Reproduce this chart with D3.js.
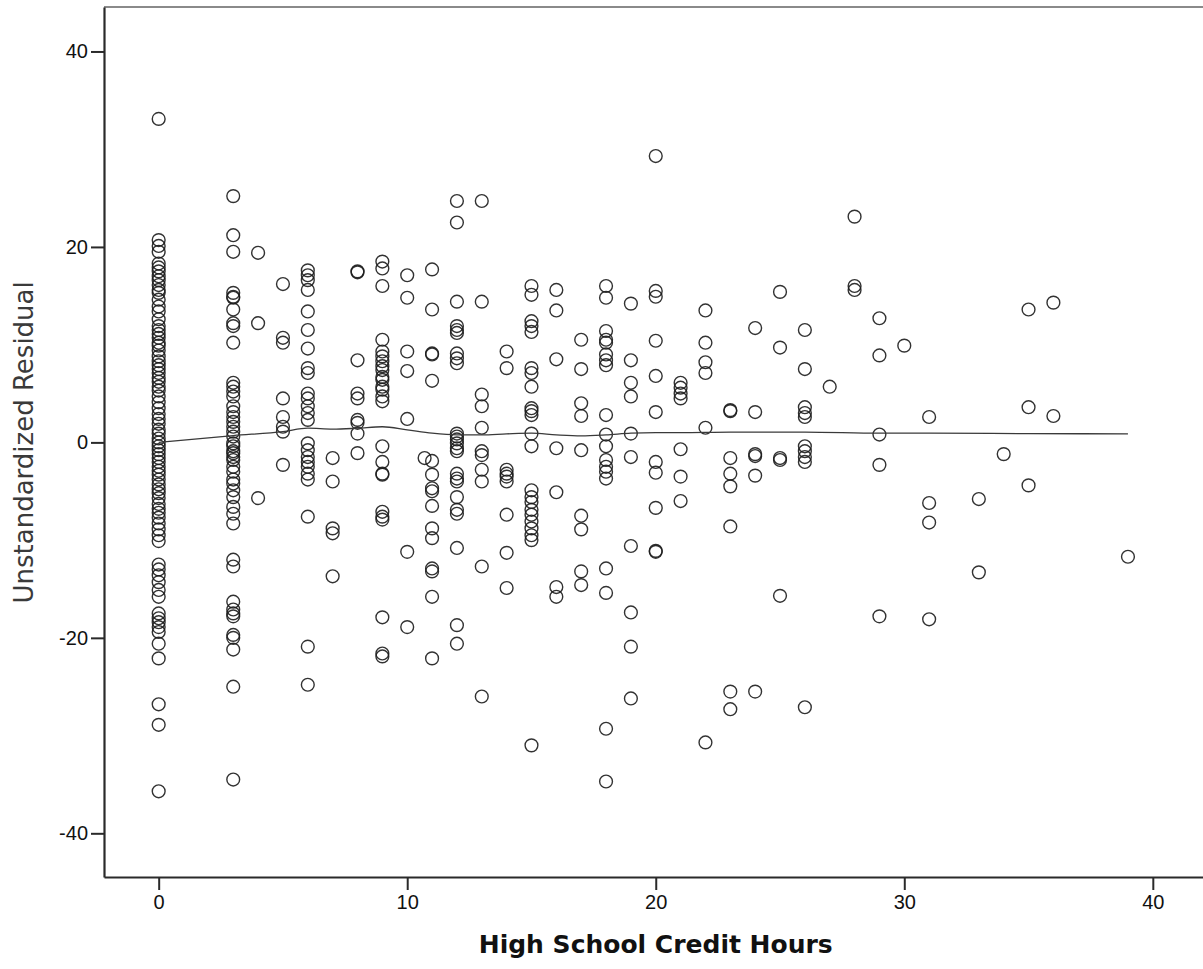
<!DOCTYPE html>
<html>
<head>
<meta charset="utf-8">
<script src="https://cdn.jsdelivr.net/npm/d3@7"></script>
<style>
  html, body { margin: 0; padding: 0; background: #fff; }
  svg { display: block; }
</style>
</head>
<body>
<svg id="chart" width="1203" height="969"></svg>
<script>
// Residuals from the regression, grouped by high school credit hours
const creditHours = [0, 3, 4, 5, 6, 7, 8, 9, 10, 10.7, 11, 12, 13, 14, 15, 16, 17, 18, 19, 20,
                     21, 22, 23, 24, 25, 26, 27, 28, 29, 30, 31, 33, 34, 35, 36, 39];
const residuals = [
  [33.1, 20.7, 20.1, 19.5, 18.3, 17.9, 17.5, 17.0, 16.6, 16.1, 15.6, 15.3, 14.6, 13.9, 13.4, 12.6, 11.9, 11.5,
   11.1, 10.7, 10.2, 9.9, 9.4, 8.8, 8.3, 7.9, 7.5, 7.1, 6.6, 6.2, 5.7, 5.3, 4.7, 4.1, 3.5, 2.9, 2.4, 1.9, 1.3,
   0.9, 0.4, 0.0, -0.4, -0.8, -1.2, -1.6, -2.0, -2.5, -2.9, -3.3, -3.8, -4.3, -4.8, -5.2, -5.7, -6.3, -6.8,
   -7.2, -7.7, -8.3, -8.9, -9.5, -10.1, -12.5, -13.0, -13.6, -14.3, -15.1, -15.8, -17.5, -18.0, -18.4, -18.9,
   -19.4, -20.6, -22.1, -26.8, -28.9, -35.7],
  [25.2, 21.2, 19.5, 15.3, 14.9, 14.8, 13.6, 12.2, 11.9, 10.2, 6.1, 5.7, 5.2, 4.7, 3.7, 3.1, 2.6, 2.1, 1.6, 1.1,
   0.6, -0.1, -0.4, -0.9, -1.1, -1.5, -1.8, -2.5, -3.0, -3.8, -4.2, -4.9, -5.6, -6.6, -7.3, -8.3, -12.0, -12.7,
   -16.3, -17.1, -17.5, -17.8, -19.7, -20.0, -21.2, -25.0, -34.5],
  [19.4, 12.2, -5.7],
  [16.2, 10.7, 10.2, 4.5, 2.6, 1.6, 1.1, -2.3],
  [17.6, 17.1, 16.6, 15.6, 13.4, 11.5, 9.6, 7.6, 7.1, 5.0, 4.5, 3.7, 3.0, 2.3, -0.1, -0.8, -1.5, -2.0, -2.5,
   -3.2, -3.8, -7.6, -20.9, -24.8],
  [-1.6, -4.0, -8.8, -9.3, -13.7],
  [17.5, 17.4, 8.4, 5.0, 4.5, 2.3, 2.0, 0.9, -1.1],
  [18.5, 17.8, 16.0, 10.5, 9.3, 8.8, 8.3, 7.8, 7.4, 6.7, 6.4, 5.7, 5.4, 4.7, 4.2, -0.4, -2.0, -3.2, -3.3,
   -7.1, -7.6, -7.9, -17.9, -21.6, -21.9],
  [17.1, 14.8, 9.3, 7.3, 2.4, -11.2, -18.9],
  [-1.6],
  [17.7, 13.6, 9.1, 9.0, 6.3, -1.9, -3.3, -4.7, -5.0, -6.5, -8.8, -9.8, -12.9, -13.2, -15.8, -22.1],
  [24.7, 22.5, 14.4, 11.9, 11.5, 11.2, 9.1, 8.6, 8.1, 0.9, 0.6, 0.3, -0.1, -0.6, -0.9, -3.2, -3.7, -4.0,
   -5.6, -6.9, -7.3, -10.8, -18.7, -20.6],
  [24.7, 14.4, 4.9, 3.7, 1.5, -0.9, -1.3, -2.8, -4.0, -12.7, -26.0],
  [9.3, 7.6, -2.8, -3.2, -3.5, -4.0, -7.4, -11.3, -14.9],
  [16.0, 15.1, 12.4, 11.9, 11.3, 7.6, 7.1, 5.7, 3.5, 3.2, 2.8, 0.9, -0.4, -4.9, -5.6, -6.1, -6.9, -7.4,
   -8.1, -8.8, -9.5, -10.0, -31.0],
  [15.6, 13.5, 8.5, -0.6, -5.1, -14.8, -15.8],
  [10.5, 7.5, 4.0, 2.7, -0.8, -7.5, -8.9, -13.2, -14.6],
  [16.0, 14.8, 11.4, 10.5, 10.2, 9.0, 8.4, 7.9, 2.8, 0.8, -0.4, -1.8, -2.5, -3.0, -3.7, -12.9, -15.4,
   -29.3, -34.7],
  [14.2, 8.4, 6.1, 4.7, 0.9, -1.5, -10.6, -17.4, -20.9, -26.2],
  [29.3, 15.5, 14.9, 10.4, 6.8, 3.1, -2.0, -3.1, -6.7, -11.1, -11.2],
  [6.1, 5.6, 5.0, 4.5, -0.7, -3.5, -6.0],
  [13.5, 10.2, 8.2, 7.1, 1.5, -30.7],
  [3.3, 3.2, -1.6, -3.2, -4.5, -8.6, -25.5, -27.3],
  [11.7, 3.1, -1.2, -1.4, -3.4, -25.5],
  [15.4, 9.7, -1.6, -1.8, -15.7],
  [11.5, 7.5, 3.6, 3.0, 2.6, -0.4, -0.9, -1.5, -2.0, -27.1],
  [5.7],
  [23.1, 16.0, 15.6],
  [12.7, 8.9, 0.8, -2.3, -17.8],
  [9.9],
  [2.6, -6.2, -8.2, -18.1],
  [-5.8, -13.3],
  [-1.2],
  [13.6, 3.6, -4.4],
  [14.3, 2.7],
  [-11.7]
];

// Smoothed (loess) fit through the residuals
const fitHours = [0, 3, 5, 6, 7, 8, 9, 10, 11, 12, 13, 14, 15, 16, 17, 18, 19, 20, 21, 23, 26, 29, 31, 35, 39];
const fitResidual = [0.0, 0.7, 1.1, 1.45, 1.35, 1.45, 1.6, 1.28, 0.94, 0.77, 0.77, 0.87, 0.94, 0.77, 0.67,
                     0.77, 0.94, 1.0, 1.0, 1.05, 1.05, 0.94, 0.94, 0.9, 0.87];

// Axis ticks
const xTicks = [0, 10, 20, 30, 40];
const yTicks = [-40, -20, 0, 20, 40];

const points = [];
creditHours.forEach((h, i) => residuals[i].forEach(r => points.push({ h, r })));
const fitLine = fitHours.map((h, i) => ({ h, r: fitResidual[i] }));

const svg = d3.select("#chart");
const plot = { left: 104, top: 7, right: 1206, bottom: 877 };

const x = d3.scaleLinear().domain([-2.2, 42.14]).range([plot.left, plot.right]);
const y = d3.scaleLinear().domain([-44.47, 44.55]).range([plot.bottom, plot.top]);

// Frame: grey top edge, dark left/bottom axes
svg.append("line")
  .attr("x1", plot.left).attr("x2", plot.right)
  .attr("y1", plot.top).attr("y2", plot.top)
  .attr("stroke", "#8a8a8a").attr("stroke-width", 2.2);

const tickFont = "'Liberation Sans', Arial, sans-serif";
const plainNumber = d => String(d);

const yAxis = svg.append("g")
  .attr("transform", `translate(${plot.left},0)`)
  .call(d3.axisLeft(y).tickValues(yTicks).tickFormat(plainNumber)
    .tickSize(13).tickPadding(3).tickSizeOuter(0));
const xAxis = svg.append("g")
  .attr("transform", `translate(0,${plot.bottom})`)
  .call(d3.axisBottom(x).tickValues(xTicks).tickFormat(plainNumber)
    .tickSize(13).tickPadding(5).tickSizeOuter(0));

[yAxis, xAxis].forEach(g => {
  g.select(".domain").attr("stroke", "#2a2a2a").attr("stroke-width", 2.2);
  g.selectAll(".tick line").attr("stroke", "#2a2a2a").attr("stroke-width", 2);
  g.selectAll(".tick text")
    .attr("fill", "#111")
    .style("font-family", tickFont)
    .style("font-size", "20px");
});

// Residual markers
svg.append("g")
  .selectAll("circle")
  .data(points)
  .join("circle")
  .attr("cx", d => x(d.h))
  .attr("cy", d => y(d.r))
  .attr("r", 6.4)
  .attr("fill", "none")
  .attr("stroke", "#1c1c1c")
  .attr("stroke-width", 1.4)
  .attr("stroke-opacity", 0.9);

// Fit line
svg.append("path")
  .datum(fitLine)
  .attr("fill", "none")
  .attr("stroke", "#3a3a3a")
  .attr("stroke-width", 1.3)
  .attr("d", d3.line().x(d => x(d.h)).y(d => y(d.r)).curve(d3.curveMonotoneX));

// Axis titles
svg.append("text")
  .attr("transform", `translate(33,${y(0)}) rotate(-90)`)
  .attr("text-anchor", "middle")
  .attr("fill", "#3a3a3a")
  .style("font-family", "'DejaVu Sans', Verdana, sans-serif")
  .style("font-size", "26px")
  .style("font-weight", "normal")
  .text("Unstandardized Residual");

svg.append("text")
  .attr("x", x(20))
  .attr("y", 953)
  .attr("text-anchor", "middle")
  .attr("fill", "#111")
  .style("font-family", "'DejaVu Sans', Verdana, sans-serif")
  .style("font-size", "25px")
  .style("font-weight", "bold")
  .text("High School Credit Hours");
</script>
</body>
</html>
